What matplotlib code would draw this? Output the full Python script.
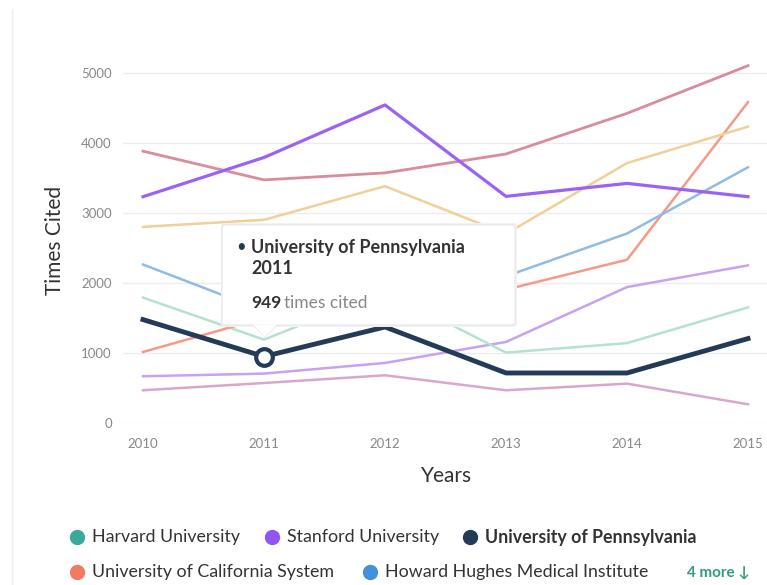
import matplotlib.pyplot as plt
import numpy as np
from matplotlib.patches import FancyBboxPatch, Polygon
from matplotlib.lines import Line2D

plt.rcParams['font.family'] = ['Lato', 'DejaVu Sans']

years = [2010, 2011, 2012, 2013, 2014, 2015]

# times cited per year
harvard = [1790, 1190, 1880, 1005, 1140, 1650]
stanford = [3230, 3790, 4540, 3235, 3420, 3230]
penn = [1476, 949, 1371, 714, 714, 1205]
uc_system = [1014, 1500, 1750, 1905, 2330, 4580]
hhmi = [2262, 1600, 1850, 2095, 2705, 3650]
other1 = [3880, 3470, 3570, 3840, 4420, 5100]
other2 = [2800, 2900, 3380, 2700, 3710, 4230]
other3 = [667, 705, 857, 1157, 1940, 2250]
other4 = [467, 571, 681, 467, 562, 267]

legend_labels = ['Harvard University', 'Stanford University', 'University of Pennsylvania',
                 'University of California System', 'Howard Hughes Medical Institute']
legend_colors = ['#3aa99b', '#9155f6', '#243b58', '#f07a62', '#4390db']

W, H = 767, 585
def fx(p):
    return p / W
def fy(p):
    return 1 - p / H

fig = plt.figure(figsize=(W / 100, H / 100), dpi=100)
ax = fig.add_axes([fx(123), fy(423), fx(767) - fx(123), fy(58.7) - fy(423)])

ax.plot(years, other4, color='#dba6cc', lw=1.8)
ax.plot(years, other3, color='#c6a2f3', lw=1.8)
ax.plot(years, harvard, color='#b3e1d2', lw=1.8)
ax.plot(years, uc_system, color='#f49a86', lw=1.8)
ax.plot(years, hhmi, color='#8fbbe4', lw=1.8)
ax.plot(years, other2, color='#f1cf98', lw=1.8)
ax.plot(years, other1, color='#d98c9c', lw=2.0)
ax.plot(years, stanford, color='#9a62f6', lw=2.3)
ax.plot(years, penn, color='#243b58', lw=3.5, zorder=5)
ax.plot(years[1], penn[1], 'o', ms=12, mfc='white', mec='#243b58', mew=3, zorder=6)

ax.set_xlim(2010 - 20 / 121, 2015 + 19 / 121)
ax.set_ylim(0, 5200)
ax.set_yticks([0, 1000, 2000, 3000, 4000, 5000])
ax.set_xticks(years)
ax.grid(axis='y', color='#ececec', lw=1)
ax.set_axisbelow(True)
for s in ax.spines.values():
    s.set_visible(False)
ax.tick_params(length=0, colors='#888888', labelsize=9.5)
ax.tick_params(axis='y', pad=8)
ax.tick_params(axis='x', pad=11)

fig.text(fx(55), fy(240), 'Times Cited', rotation=90, ha='center', va='center',
         fontsize=15, color='#333333')
fig.text(fx(447), fy(476), 'Years', ha='center', va='center', fontsize=15, color='#333333')

# faint frame line on the left
fig.add_artist(Line2D([fx(12), fx(12)], [fy(10), fy(585)], color='#eeeeee', lw=1,
                      transform=fig.transFigure))

# tooltip
shadow = FancyBboxPatch((fx(221), fy(327)), fx(296), fy(223) - fy(327),
                        boxstyle='round,pad=0,rounding_size=0.004',
                        transform=fig.transFigure, fc='#f2f2f2', ec='none', zorder=1)
fig.patches.append(shadow)
box = FancyBboxPatch((fx(222), fy(325)), fx(293), fy(225) - fy(325),
                     boxstyle='round,pad=0,rounding_size=0.004',
                     transform=fig.transFigure, fc='white', ec='#e6e6e6', lw=0.8, zorder=2)
fig.patches.append(box)
notch = Polygon([[fx(253), fy(324.5)], [fx(265), fy(337)], [fx(277), fy(324.5)]],
                closed=True, transform=fig.transFigure, fc='white', ec='none', zorder=3)
fig.patches.append(notch)
fig.add_artist(Line2D([fx(253), fx(265), fx(277)], [fy(325), fy(337), fy(325)],
                      color='#e6e6e6', lw=0.8, transform=fig.transFigure, zorder=3))

fig.text(fx(241), fy(247), '•', ha='center', va='center', fontsize=12, color='#243b58')
fig.text(fx(251), fy(247), 'University of Pennsylvania', va='center', fontsize=13,
         fontweight='bold', color='#333333')
fig.text(fx(251), fy(269), '2011', va='center', fontsize=13, fontweight='bold', color='#333333')
fig.text(fx(251), fy(303), '949', va='center', fontsize=12.5, fontweight='bold', color='#333333')
fig.text(fx(284), fy(303), 'times cited', va='center', fontsize=12.5, color='#888888')
# pin icon
fig.add_artist(Line2D([fx(487), fx(492)], [fy(252), fy(247)], color='#aaaaaa', lw=1.5,
                      transform=fig.transFigure))
fig.patches.append(Polygon([[fx(490), fy(243)], [fx(497), fy(250)], [fx(500), fy(244)], [fx(496), fy(240)]],
                           closed=True, transform=fig.transFigure, fc='#aaaaaa', ec='none'))

# legend
leg_pos = [(77, 537), (272, 537), (470, 537), (77, 572), (370, 572)]
for (px, py), lab, col in zip(leg_pos, legend_labels, legend_colors):
    fig.add_artist(Line2D([fx(px)], [fy(py)], marker='o', ms=10, color=col,
                          transform=fig.transFigure))
    fig.text(fx(px + 15), fy(py), lab, va='center', fontsize=12.8, color='#333333',
             fontweight='bold' if 'Pennsylvania' in lab else 'normal')
fig.text(fx(750), fy(572), '4 more ↓', ha='right', va='center', fontsize=11, color='#2f9e78',
         fontweight='bold', family=['Lato', 'DejaVu Sans'])

fig.savefig('out.png', dpi=100)
